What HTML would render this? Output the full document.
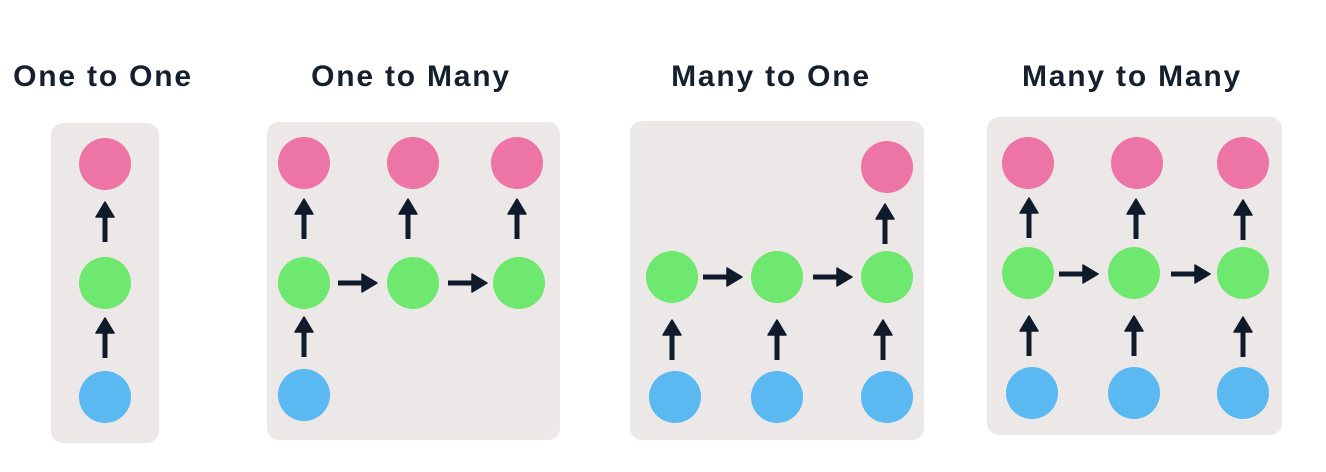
<!DOCTYPE html>
<html><head><meta charset="utf-8"><style>
html,body{margin:0;padding:0;background:#fff;}
svg{display:block}
text{font-family:"Liberation Sans",sans-serif;font-weight:bold;font-size:30px;letter-spacing:1.8px;fill:#15202e;text-anchor:middle}
</style></head><body>
<svg width="1326" height="472" viewBox="0 0 1326 472" xmlns="http://www.w3.org/2000/svg">
<defs>
<g id="up"><polygon points="0,0 -9,15 9,15" fill="#0f1a2a" stroke="#0f1a2a" stroke-width="1.5" stroke-linejoin="round"/><rect x="-2.5" y="12" width="5" height="28" fill="#0f1a2a"/></g>
<g id="rt"><polygon points="0,0 -15,-9 -15,9" fill="#0f1a2a" stroke="#0f1a2a" stroke-width="1.5" stroke-linejoin="round"/><rect x="-39" y="-2.5" width="28" height="5" fill="#0f1a2a"/></g>
</defs>
<text x="103" y="86">One to One</text>
<text x="411" y="86">One to Many</text>
<text x="771" y="86">Many to One</text>
<text x="1132" y="86">Many to Many</text>

<!-- panel 1 -->
<rect x="51" y="123" width="108" height="320" rx="12" fill="#ede8e8"/>
<circle cx="105" cy="164" r="26" fill="#ec75a6"/>
<circle cx="105" cy="283" r="26" fill="#6ee86e"/>
<circle cx="105" cy="397" r="26" fill="#5bb9f2"/>
<use href="#up" x="105" y="202"/>
<use href="#up" x="105" y="318"/>

<!-- panel 2 -->
<rect x="267" y="122" width="293" height="318" rx="12" fill="#ede8e8"/>
<circle cx="304" cy="163" r="26" fill="#ec75a6"/>
<circle cx="413" cy="163" r="26" fill="#ec75a6"/>
<circle cx="517" cy="163" r="26" fill="#ec75a6"/>
<circle cx="304" cy="283" r="26" fill="#6ee86e"/>
<circle cx="413" cy="283" r="26" fill="#6ee86e"/>
<circle cx="519" cy="283" r="26" fill="#6ee86e"/>
<circle cx="304" cy="395" r="26" fill="#5bb9f2"/>
<use href="#up" x="304" y="199"/>
<use href="#up" x="408" y="199"/>
<use href="#up" x="517" y="199"/>
<use href="#up" x="304" y="317"/>
<use href="#rt" x="377" y="283"/>
<use href="#rt" x="487" y="283"/>

<!-- panel 3 -->
<rect x="630" y="121" width="294" height="319" rx="12" fill="#ede8e8"/>
<circle cx="887" cy="167" r="26" fill="#ec75a6"/>
<circle cx="672" cy="277" r="26" fill="#6ee86e"/>
<circle cx="777" cy="277" r="26" fill="#6ee86e"/>
<circle cx="887" cy="277" r="26" fill="#6ee86e"/>
<circle cx="675" cy="397" r="26" fill="#5bb9f2"/>
<circle cx="777" cy="397" r="26" fill="#5bb9f2"/>
<circle cx="887" cy="397" r="26" fill="#5bb9f2"/>
<use href="#up" x="885" y="204"/>
<use href="#up" x="672" y="320"/>
<use href="#up" x="777" y="320"/>
<use href="#up" x="883" y="320"/>
<use href="#rt" x="742" y="277"/>
<use href="#rt" x="852" y="277"/>

<!-- panel 4 -->
<rect x="987" y="117" width="295" height="318" rx="12" fill="#ede8e8"/>
<circle cx="1028" cy="163" r="26" fill="#ec75a6"/>
<circle cx="1137" cy="163" r="26" fill="#ec75a6"/>
<circle cx="1243" cy="163" r="26" fill="#ec75a6"/>
<circle cx="1028" cy="273" r="26" fill="#6ee86e"/>
<circle cx="1134" cy="273" r="26" fill="#6ee86e"/>
<circle cx="1243" cy="273" r="26" fill="#6ee86e"/>
<circle cx="1032" cy="393" r="26" fill="#5bb9f2"/>
<circle cx="1134" cy="393" r="26" fill="#5bb9f2"/>
<circle cx="1243" cy="393" r="26" fill="#5bb9f2"/>
<use href="#up" x="1029" y="198"/>
<use href="#up" x="1136" y="199"/>
<use href="#up" x="1243" y="200"/>
<use href="#up" x="1029" y="316"/>
<use href="#up" x="1134" y="316"/>
<use href="#up" x="1243" y="317"/>
<use href="#rt" x="1098" y="274"/>
<use href="#rt" x="1210" y="274"/>
</svg>
</body></html>
